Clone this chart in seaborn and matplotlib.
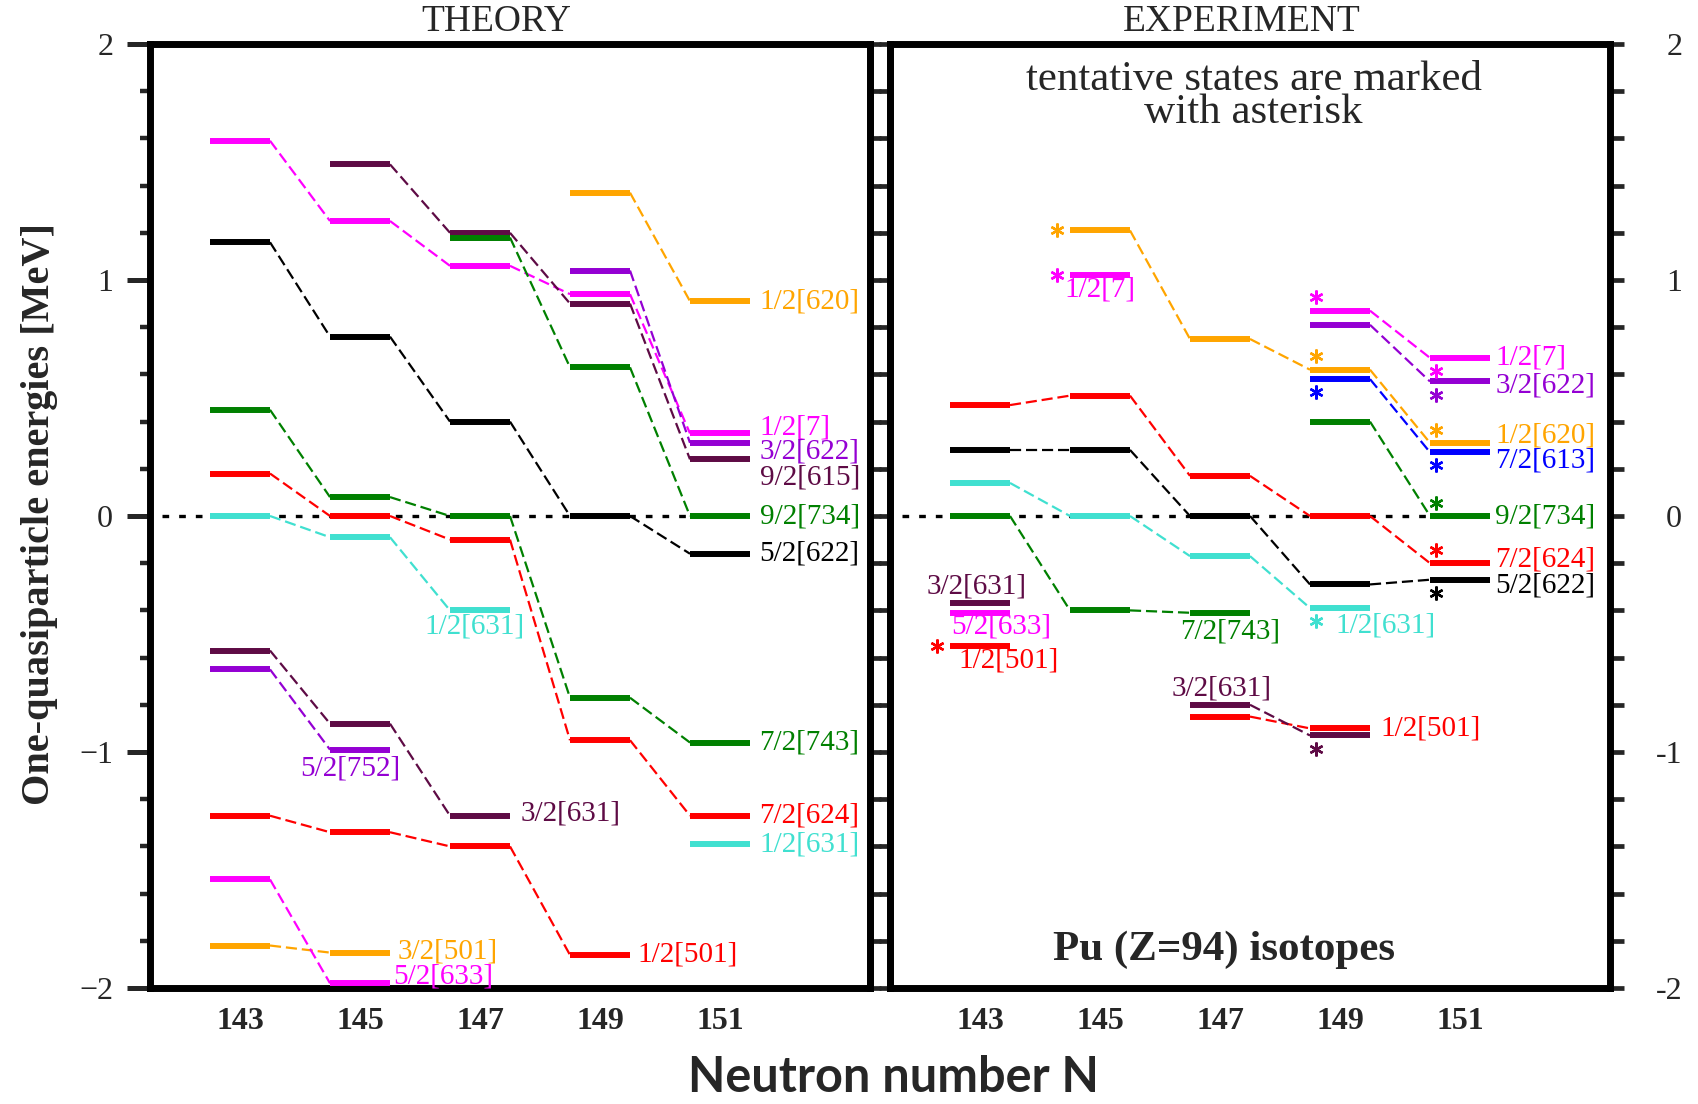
import matplotlib
matplotlib.use("Agg")
import matplotlib.pyplot as plt
from matplotlib.ticker import MultipleLocator, FixedLocator
import pandas as pd
import seaborn as sns

# ------------------------------------------------------------------ data
ISOTOPES = [143, 145, 147, 149, 151]
ISOTOPE_LABELS = ["143", "145", "147", "149", "151"]
ENERGY_TICKS = [-2, -1, 0, 1, 2]
LEFT_TICK_LABELS = ["\u22122", "\u22121", "0", "1", "2"]
RIGHT_TICK_LABELS = ["-2", "-1", "0", "1", "2"]

# Theory: one-quasiparticle levels (MeV) followed along the isotope chain
TH_620_N = [149, 151];                  TH_620_E = [1.37, 0.91]
TH_7_N = [143, 145, 147, 149, 151];     TH_7_E = [1.59, 1.25, 1.06, 0.94, 0.35]
TH_615_N = [145, 147, 149, 151];        TH_615_E = [1.49, 1.20, 0.90, 0.24]
TH_734_N = [147, 149, 151];             TH_734_E = [1.18, 0.63, 0.00]
TH_3622_N = [149, 151];                 TH_3622_E = [1.04, 0.31]
TH_5622_N = [143, 145, 147, 149, 151];  TH_5622_E = [1.16, 0.76, 0.40, 0.00, -0.16]
TH_743_N = [143, 145, 147, 149, 151];   TH_743_E = [0.45, 0.08, 0.00, -0.77, -0.96]
TH_624_N = [143, 145, 147, 149, 151];   TH_624_E = [0.18, 0.00, -0.10, -0.95, -1.27]
TH_1631_N = [143, 145, 147];            TH_1631_E = [0.00, -0.09, -0.40]
TH_1631B_N = [151];                     TH_1631B_E = [-1.39]
TH_3631_N = [143, 145, 147];            TH_3631_E = [-0.57, -0.88, -1.27]
TH_752_N = [143, 145];                  TH_752_E = [-0.65, -0.99]
TH_1501_N = [143, 145, 147, 149];       TH_1501_E = [-1.27, -1.34, -1.40, -1.86]
TH_633_N = [143, 145];                  TH_633_E = [-1.54, -1.98]
TH_3501_N = [143, 145];                 TH_3501_E = [-1.82, -1.85]

# Experiment: measured levels (MeV); *_T flags tentative assignments
EX_620_N = [145, 147, 149, 151];        EX_620_E = [1.21, 0.75, 0.62, 0.31]
EX_620_T = [True, False, True, True]
EX_7A_N = [145];                        EX_7A_E = [1.02];   EX_7A_T = [True]
EX_7B_N = [149, 151];                   EX_7B_E = [0.87, 0.67]; EX_7B_T = [True, True]
EX_3622_N = [149, 151];                 EX_3622_E = [0.81, 0.57]; EX_3622_T = [False, True]
EX_613_N = [149, 151];                  EX_613_E = [0.58, 0.27]; EX_613_T = [True, True]
EX_734_N = [149, 151];                  EX_734_E = [0.40, 0.00]; EX_734_T = [False, True]
EX_624_N = [143, 145, 147, 149, 151];   EX_624_E = [0.47, 0.51, 0.17, 0.00, -0.20]
EX_624_T = [False, False, False, False, True]
EX_5622_N = [143, 145, 147, 149, 151];  EX_5622_E = [0.28, 0.28, 0.00, -0.29, -0.27]
EX_5622_T = [False, False, False, False, True]
EX_1631_N = [143, 145, 147, 149];       EX_1631_E = [0.14, 0.00, -0.17, -0.39]
EX_1631_T = [False, False, False, True]
EX_743_N = [143, 145, 147];             EX_743_E = [0.00, -0.40, -0.41]
EX_743_T = [False, False, False]
EX_3631A_N = [143];                     EX_3631A_E = [-0.37]; EX_3631A_T = [False]
EX_633_N = [143];                       EX_633_E = [-0.41]; EX_633_T = [False]
EX_1501A_N = [143];                     EX_1501A_E = [-0.55]; EX_1501A_T = [True]
EX_3631B_N = [147, 149];                EX_3631B_E = [-0.80, -0.93]; EX_3631B_T = [False, True]
EX_1501B_N = [147, 149];                EX_1501B_E = [-0.85, -0.90]; EX_1501B_T = [False, False]

# ------------------------------------------------------------------ style
MAGENTA = "#ff00ff"
MAROON = "#5e0b45"
VIOLET = "#9400d3"
ORANGE = "#ffa500"
GREEN = "#008000"
RED = "#ff0000"
BLACK = "#000000"
TURQ = "#40e0d0"
BLUE = "#0000ff"

HALF = 0.5            # half width of a level bar (in N units)
LEVEL_LW = 4.3
LINK_LW = 1.6
LINK_DASH = (0, (5.0, 2.2))
LABEL_FS = 21
SERIF = ["Liberation Serif", "DejaVu Serif"]

# (N, E, text, colour, (level index, dx, dy, ha))
theory_states = [
    (TH_620_N, TH_620_E, "1/2[620]", ORANGE, (-1, 0.66, 0.0, "left")),
    (TH_7_N, TH_7_E, "1/2[7]", MAGENTA, (-1, 0.66, 0.025, "left")),
    (TH_615_N, TH_615_E, "9/2[615]", MAROON, (-1, 0.66, -0.078, "left")),
    (TH_734_N, TH_734_E, "9/2[734]", GREEN, (-1, 0.66, 0.0, "left")),
    (TH_3622_N, TH_3622_E, "3/2[622]", VIOLET, (-1, 0.66, -0.035, "left")),
    (TH_5622_N, TH_5622_E, "5/2[622]", BLACK, (-1, 0.66, 0.0, "left")),
    (TH_743_N, TH_743_E, "7/2[743]", GREEN, (-1, 0.66, 0.0, "left")),
    (TH_624_N, TH_624_E, "7/2[624]", RED, (-1, 0.66, 0.0, "left")),
    (TH_1631_N, TH_1631_E, "1/2[631]", TURQ, (-1, -0.09, -0.068, "center")),
    (TH_1631B_N, TH_1631B_E, "1/2[631]", TURQ, (-1, 0.66, 0.0, "left")),
    (TH_3631_N, TH_3631_E, "3/2[631]", MAROON, (-1, 0.67, 0.01, "left")),
    (TH_752_N, TH_752_E, "5/2[752]", VIOLET, (-1, -0.17, -0.082, "center")),
    (TH_1501_N, TH_1501_E, "1/2[501]", RED, (-1, 0.63, 0.0, "left")),
    (TH_3501_N, TH_3501_E, "3/2[501]", ORANGE, (-1, 0.62, 0.005, "left")),
    (TH_633_N, TH_633_E, "5/2[633]", MAGENTA, (-1, 0.56, 0.03, "left")),
]

# (N, E, tentative, text, colour, label layout, asterisk side per level)
experiment_states = [
    (EX_620_N, EX_620_E, EX_620_T, "1/2[620]", ORANGE, (-1, 0.59, 0.033, "left"), ["L", None, "A", "A"]),
    (EX_7A_N, EX_7A_E, EX_7A_T, "1/2[7]", MAGENTA, (0, -0.6, -0.06, "left"), ["L"]),
    (EX_7B_N, EX_7B_E, EX_7B_T, "1/2[7]", MAGENTA, (-1, 0.59, 0.0, "left"), ["A", "B"]),
    (EX_3622_N, EX_3622_E, EX_3622_T, "3/2[622]", VIOLET, (-1, 0.59, -0.018, "left"), [None, "B"]),
    (EX_613_N, EX_613_E, EX_613_T, "7/2[613]", BLUE, (-1, 0.59, -0.033, "left"), ["B", "B"]),
    (EX_734_N, EX_734_E, EX_734_T, "9/2[734]", GREEN, (-1, 0.59, 0.0, "left"), [None, "A"]),
    (EX_624_N, EX_624_E, EX_624_T, "7/2[624]", RED, (-1, 0.59, 0.017, "left"), [None] * 4 + ["A"]),
    (EX_5622_N, EX_5622_E, EX_5622_T, "5/2[622]", BLACK, (-1, 0.59, -0.024, "left"), [None] * 4 + ["B"]),
    (EX_1631_N, EX_1631_E, EX_1631_T, "1/2[631]", TURQ, (-1, -0.07, -0.073, "left"), [None] * 3 + ["B"]),
    (EX_743_N, EX_743_E, EX_743_T, "7/2[743]", GREEN, (-1, 0.17, -0.078, "center"), [None] * 3),
    (EX_3631A_N, EX_3631A_E, EX_3631A_T, "3/2[631]", MAROON, (0, -0.06, 0.072, "center"), [None]),
    (EX_633_N, EX_633_E, EX_633_T, "5/2[633]", MAGENTA, (0, 0.35, -0.057, "center"), [None]),
    (EX_1501A_N, EX_1501A_E, EX_1501A_T, "1/2[501]", RED, (0, 0.47, -0.064, "center"), ["L"]),
    (EX_3631B_N, EX_3631B_E, EX_3631B_T, "3/2[631]", MAROON, (0, 0.03, 0.07, "center"), [None, "B"]),
    (EX_1501B_N, EX_1501B_E, EX_1501B_T, "1/2[501]", RED, (-1, 0.67, 0.0, "left"), [None, None]),
]

# ------------------------------------------------------------------ figure
sns.set_style("white")
plt.rcParams["font.family"] = SERIF
plt.rcParams["axes.linewidth"] = 5

W, H = 1698, 1104
fig = plt.figure(figsize=(W / 100, H / 100), dpi=100)
fig.patch.set_facecolor("white")
ax_l = fig.add_axes([150 / W, 116 / H, 720 / W, 944 / H])
ax_r = fig.add_axes([890 / W, 116 / H, 720 / W, 944 / H])
for ax in (ax_l, ax_r):
    ax.set_facecolor("none")


def draw_links(ax, states):
    rows = []
    for sid, st in enumerate(states):
        n, e, color = st[0], st[1], st[3] if len(st) == 5 else st[4]
        for i in range(len(n) - 1):
            uid = f"{sid}-{i}"
            rows.append((uid, color, n[i] + HALF, e[i]))
            rows.append((uid, color, n[i + 1] - HALF, e[i + 1]))
    df = pd.DataFrame(rows, columns=["unit", "color", "N", "E"])
    sns.lineplot(data=df, x="N", y="E", hue="color", units="unit",
                 estimator=None, sort=False, legend=False, ax=ax,
                 palette={c: c for c in df["color"].unique()},
                 linewidth=LINK_LW, linestyle=LINK_DASH, zorder=2)


def draw_levels(ax, n, e, color):
    xs = [v - HALF for v in n]
    xe = [v + HALF for v in n]
    ax.hlines(e, xs, xe, colors=color, linewidth=LEVEL_LW, zorder=3,
              capstyle="butt")


def draw_label(ax, n, e, text, color, layout):
    idx, dx, dy, ha = layout
    ax.text(n[idx] + dx, e[idx] + dy, text, color=color, fontsize=LABEL_FS,
            ha=ha, va="center", family=SERIF, zorder=4)


def style_axis(ax, side):
    ax.set_xlim(141.5, 153.5)
    ax.set_ylim(-2, 2)
    ax.set_xlabel("")
    ax.set_ylabel("")
    for sp in ax.spines.values():
        sp.set_visible(True)
        sp.set_linewidth(5)
        sp.set_color("black")
    ax.set_xticks(ISOTOPES)
    ax.set_xticklabels(ISOTOPE_LABELS, fontsize=23, fontweight="bold", family=SERIF)
    ax.tick_params(axis="x", length=0, pad=14)
    ax.yaxis.set_major_locator(FixedLocator(ENERGY_TICKS))
    ax.yaxis.set_minor_locator(MultipleLocator(0.2))
    # dotted reference line at zero, stopping before the N=151 bars
    ax.hlines(0, 141.7, 150.5, color="black", linewidth=2.4,
              linestyle=(0, (2.0, 3.0)), zorder=1)
    if side == "left":
        ax.yaxis.tick_left()
        ax.tick_params(axis="y", which="major", direction="out", length=16.5,
                       width=3.6, pad=10, labelsize=23)
        ax.tick_params(axis="y", which="minor", direction="out", length=7.2, width=3.2)
        ax.set_yticklabels(LEFT_TICK_LABELS, family=SERIF)
        inner = ax.secondary_yaxis("right")
        inner.tick_params(axis="y", which="both", right=True, left=False,
                          direction="out", length=7.6, width=3.4,
                          labelleft=False, labelright=False)
    else:
        ax.yaxis.tick_right()
        ax.tick_params(axis="y", which="both", direction="out", length=10,
                       width=3.4, labelsize=23, pad=42)
        ax.set_yticklabels(RIGHT_TICK_LABELS, family=SERIF)
        for t in ax.yaxis.get_major_ticks():
            t.label2.set_horizontalalignment("right")
        inner = ax.secondary_yaxis("left")
        inner.tick_params(axis="y", which="both", left=True, right=False,
                          direction="out", length=7.6, width=3.4,
                          labelleft=False, labelright=False)
    inner.yaxis.set_major_locator(FixedLocator(ENERGY_TICKS))
    inner.yaxis.set_minor_locator(MultipleLocator(0.2))
    for sp in inner.spines.values():
        sp.set_linewidth(5)


# theory panel
draw_links(ax_l, theory_states)
for n, e, text, color, layout in theory_states:
    draw_levels(ax_l, n, e, color)
    draw_label(ax_l, n, e, text, color, layout)
style_axis(ax_l, "left")

# experiment panel
draw_links(ax_r, experiment_states)
STAR_OFFSETS = {"L": (-HALF - 0.22, 0.0), "A": (-0.4, 0.056), "B": (-0.4, -0.056)}
for n, e, tent, text, color, layout, sides in experiment_states:
    draw_levels(ax_r, n, e, color)
    draw_label(ax_r, n, e, text, color, layout)
    for ni, ei, ti, side in zip(n, e, tent, sides):
        if ti and side:
            dx, dy = STAR_OFFSETS[side]
            ax_r.plot([ni + dx], [ei + dy], linestyle="none", marker=(6, 2, 0),
                      markersize=10, markeredgewidth=1.7, markeredgecolor=color,
                      zorder=5, clip_on=False)
style_axis(ax_r, "right")

ax_r.text(0.505, (988 - 96) / 944, "tentative states are marked\nwith asterisk",
          transform=ax_r.transAxes, ha="center", va="center", fontsize=31,
          linespacing=0.8, family=SERIF)
ax_r.text(147.07, -1.84, "Pu (Z=94) isotopes", ha="center", va="center",
          fontsize=31, fontweight="bold", family=SERIF)

fig.text(496 / W, 1 - 22 / H, "THEORY", ha="center", va="center",
         fontsize=27, family=SERIF)
fig.text(1242 / W, 1 - 22 / H, "EXPERIMENT", ha="center", va="center",
         fontsize=27, family=SERIF)
fig.text(40 / W, 1 - 514 / H, "One-quasiparticle energies [MeV]", rotation=90,
         ha="center", va="center", fontsize=29, fontweight="bold", family=SERIF)
fig.text(893 / W, 1 - 1078 / H, "Neutron number N", ha="center", va="center",
         fontsize=35, fontweight="bold", family=["Lato", "DejaVu Sans"])

fig.savefig("out.png", dpi=100, facecolor="white")
